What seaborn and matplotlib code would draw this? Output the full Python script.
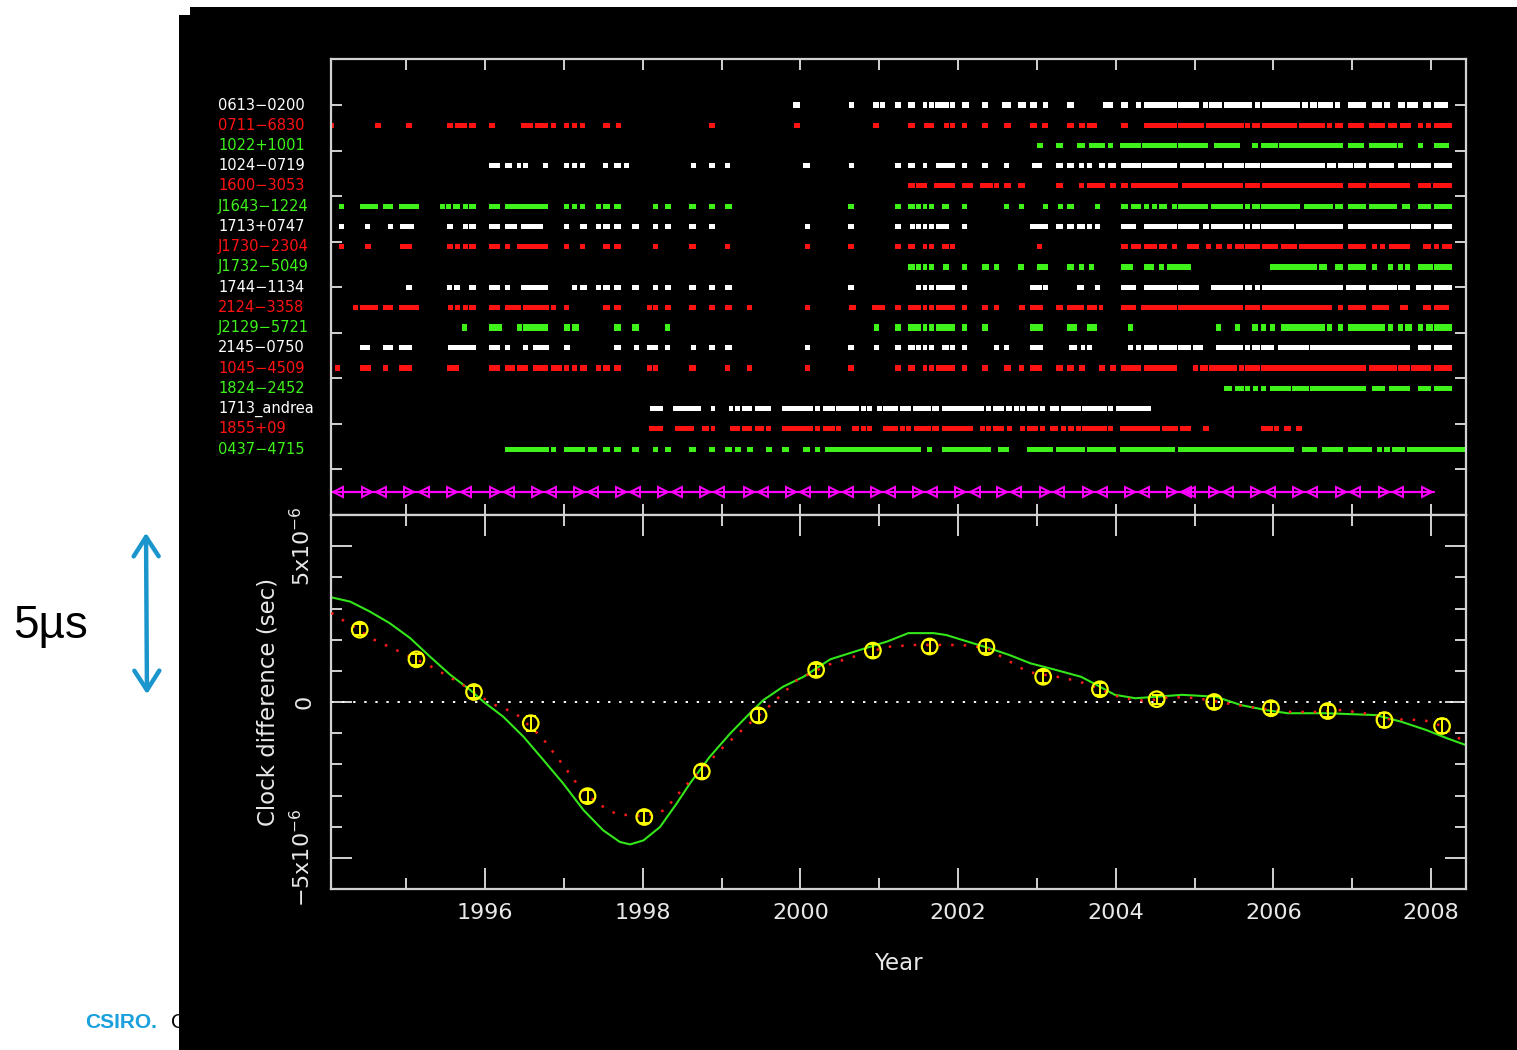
import numpy as np
import matplotlib
matplotlib.use("Agg")
import matplotlib.pyplot as plt
from matplotlib.patches import Rectangle, FancyArrowPatch
from matplotlib.transforms import blended_transform_factory
import seaborn as sns

# ---------------------------------------------------------------- data
PSR_NAMES = ["0613\u22120200", "0711\u22126830", "1022+1001", "1024\u22120719",
             "1600\u22123053", "J1643\u22121224", "1713+0747", "J1730\u22122304",
             "J1732\u22125049", "1744\u22121134", "2124\u22123358", "J2129\u22125721",
             "2145\u22120750", "1045\u22124509", "1824\u22122452", "1713_andrea",
             "1855+09", "0437\u22124715"]

# observing spans per pulsar (start year, end year)
SEG_0613_0200 = [(1999.91, 2000.00), (2000.62, 2000.68), (2000.92, 2001.00), (2001.01, 2001.07),
                 (2001.20, 2001.28), (2001.37, 2001.46), (2001.56, 2001.61), (2001.63, 2001.70),
                 (2001.71, 2001.89), (2001.90, 2001.96), (2002.05, 2002.14), (2002.30, 2002.38),
                 (2002.56, 2002.67), (2002.76, 2002.86), (2002.91, 2003.00), (2003.08, 2003.14),
                 (2003.38, 2003.47), (2003.84, 2003.97), (2004.07, 2004.16), (2004.26, 2004.32),
                 (2004.36, 2004.78), (2004.79, 2005.06), (2005.11, 2005.17), (2005.18, 2005.35),
                 (2005.37, 2005.73), (2005.77, 2005.83), (2005.86, 2006.34), (2006.36, 2006.44),
                 (2006.47, 2006.55), (2006.57, 2006.76), (2006.78, 2006.85), (2006.95, 2007.18),
                 (2007.25, 2007.38), (2007.40, 2007.48), (2007.58, 2007.67), (2007.70, 2007.84),
                 (2007.90, 2008.00), (2008.04, 2008.22)]
SEG_0711_6830 = [(1994.02, 1994.08), (1994.60, 1994.68), (1995.00, 1995.07), (1995.52, 1995.59),
                 (1995.62, 1995.77), (1995.80, 1995.89), (1996.05, 1996.13), (1996.46, 1996.61),
                 (1996.63, 1996.80), (1996.84, 1996.90), (1997.00, 1997.07), (1997.10, 1997.17),
                 (1997.21, 1997.27), (1997.50, 1997.59), (1997.66, 1997.73), (1998.84, 1998.92),
                 (1999.92, 2000.00), (2000.92, 2001.00), (2001.37, 2001.46), (2001.57, 2001.70),
                 (2001.82, 2001.89), (2001.90, 2001.96), (2002.05, 2002.11), (2002.30, 2002.38),
                 (2002.58, 2002.67), (2002.91, 2003.00), (2003.07, 2003.14), (2003.38, 2003.47),
                 (2003.54, 2003.61), (2003.64, 2003.76), (2004.07, 2004.16), (2004.36, 2004.78),
                 (2004.79, 2005.12), (2005.15, 2005.63), (2005.64, 2005.70), (2005.73, 2005.83),
                 (2005.86, 2006.30), (2006.33, 2006.66), (2006.68, 2006.75), (2006.78, 2006.88),
                 (2006.95, 2007.15), (2007.21, 2007.42), (2007.46, 2007.57), (2007.61, 2007.75),
                 (2007.84, 2007.90), (2007.94, 2008.00), (2008.04, 2008.27)]
SEG_1022_1001 = [(2003.00, 2003.08), (2003.24, 2003.33), (2003.51, 2003.61), (2003.66, 2003.87),
                 (2003.90, 2003.97), (2004.06, 2004.32), (2004.33, 2004.78), (2004.79, 2005.17),
                 (2005.25, 2005.58), (2005.73, 2005.81), (2005.84, 2006.06), (2006.07, 2006.88),
                 (2006.95, 2007.15), (2007.21, 2007.57), (2007.58, 2007.65), (2007.84, 2007.90),
                 (2008.04, 2008.23)]
SEG_1024_0719 = [(1996.05, 1996.19), (1996.25, 1996.34), (1996.41, 1996.46), (1996.48, 1996.55),
                 (1996.74, 1996.80), (1997.00, 1997.07), (1997.10, 1997.17), (1997.21, 1997.27),
                 (1997.50, 1997.56), (1997.64, 1997.73), (1997.76, 1997.83), (1998.61, 1998.68),
                 (1998.84, 1998.92), (1999.04, 1999.11), (2000.03, 2000.12), (2000.62, 2000.68),
                 (2001.20, 2001.28), (2001.37, 2001.46), (2001.56, 2001.61), (2001.72, 2001.96),
                 (2002.05, 2002.11), (2002.30, 2002.38), (2002.58, 2002.65), (2002.94, 2003.07),
                 (2003.24, 2003.33), (2003.38, 2003.47), (2003.54, 2003.60), (2003.64, 2003.70),
                 (2003.79, 2003.87), (2003.90, 2004.00), (2004.07, 2004.32), (2004.33, 2004.78),
                 (2004.82, 2005.12), (2005.15, 2005.35), (2005.37, 2005.63), (2005.64, 2005.83),
                 (2005.84, 2006.66), (2006.68, 2006.80), (2006.82, 2007.01), (2007.02, 2007.18),
                 (2007.21, 2007.53), (2007.58, 2007.73), (2007.75, 2008.00), (2008.04, 2008.27)]
SEG_1600_3053 = [(2001.37, 2001.46), (2001.47, 2001.61), (2001.70, 2001.96), (2002.05, 2002.19),
                 (2002.28, 2002.44), (2002.46, 2002.52), (2002.58, 2002.67), (2002.76, 2002.85),
                 (2003.24, 2003.33), (2003.54, 2003.60), (2003.64, 2003.87), (2003.93, 2004.00),
                 (2004.07, 2004.16), (2004.20, 2004.79), (2004.84, 2005.62), (2005.64, 2005.83),
                 (2005.86, 2006.88), (2006.95, 2007.18), (2007.21, 2007.73), (2007.84, 2008.00),
                 (2008.03, 2008.27)]
SEG_J1643_1224 = [(1994.15, 1994.21), (1994.41, 1994.64), (1994.71, 1994.83), (1994.91, 1995.16),
                  (1995.43, 1995.49), (1995.51, 1995.57), (1995.59, 1995.68), (1995.72, 1995.78),
                  (1995.80, 1995.89), (1996.05, 1996.19), (1996.25, 1996.80), (1997.00, 1997.07),
                  (1997.10, 1997.17), (1997.21, 1997.27), (1997.41, 1997.47), (1997.50, 1997.59),
                  (1997.64, 1997.73), (1998.13, 1998.19), (1998.28, 1998.36), (1998.59, 1998.68),
                  (1998.84, 1998.92), (1999.04, 1999.13), (2000.61, 2000.68), (2001.20, 2001.28),
                  (2001.37, 2001.46), (2001.47, 2001.53), (2001.56, 2001.61), (2001.63, 2001.70),
                  (2001.80, 2001.89), (2002.05, 2002.11), (2002.58, 2002.65), (2002.77, 2002.84),
                  (2003.08, 2003.14), (2003.27, 2003.33), (2003.38, 2003.47), (2003.74, 2003.80),
                  (2004.07, 2004.16), (2004.20, 2004.32), (2004.36, 2004.42), (2004.46, 2004.53),
                  (2004.55, 2004.65), (2004.72, 2004.78), (2004.79, 2005.17), (2005.21, 2005.62),
                  (2005.64, 2005.70), (2005.73, 2005.83), (2005.84, 2006.34), (2006.39, 2006.76),
                  (2006.78, 2006.88), (2006.95, 2007.18), (2007.21, 2007.57), (2007.63, 2007.73),
                  (2007.84, 2008.00), (2008.04, 2008.27)]
SEG_1713_0747 = [(1994.15, 1994.21), (1994.48, 1994.54), (1994.77, 1994.83), (1994.92, 1995.10),
                 (1995.52, 1995.59), (1995.72, 1995.78), (1995.80, 1995.89), (1996.05, 1996.19),
                 (1996.25, 1996.41), (1996.46, 1996.74), (1997.00, 1997.07), (1997.21, 1997.29),
                 (1997.41, 1997.47), (1997.50, 1997.59), (1997.64, 1997.73), (1997.86, 1997.95),
                 (1998.13, 1998.19), (1998.28, 1998.36), (1998.59, 1998.68), (1998.84, 1998.92),
                 (2000.06, 2000.12), (2000.61, 2000.68), (2001.20, 2001.28), (2001.39, 2001.46),
                 (2001.47, 2001.53), (2001.56, 2001.61), (2001.63, 2001.70), (2001.72, 2001.89),
                 (2002.05, 2002.11), (2002.91, 2003.14), (2003.24, 2003.33), (2003.38, 2003.47),
                 (2003.51, 2003.61), (2003.64, 2003.70), (2003.74, 2003.80), (2004.07, 2004.26),
                 (2004.36, 2004.78), (2004.79, 2005.06), (2005.11, 2005.18), (2005.21, 2005.62),
                 (2005.64, 2005.70), (2005.73, 2005.83), (2005.84, 2006.26), (2006.29, 2006.88),
                 (2006.95, 2007.73), (2007.75, 2008.00), (2008.04, 2008.27)]
SEG_J1730_2304 = [(1994.15, 1994.21), (1994.48, 1994.55), (1994.92, 1995.07), (1995.52, 1995.59),
                  (1995.62, 1995.68), (1995.72, 1995.78), (1995.80, 1995.89), (1996.05, 1996.19),
                  (1996.25, 1996.32), (1996.41, 1996.80), (1997.00, 1997.07), (1997.21, 1997.27),
                  (1997.50, 1997.59), (1997.64, 1997.73), (1998.13, 1998.19), (1998.59, 1998.68),
                  (1999.04, 1999.11), (2000.06, 2000.12), (2000.61, 2000.68), (2001.20, 2001.28),
                  (2001.37, 2001.46), (2001.56, 2001.61), (2001.63, 2001.70), (2001.80, 2001.89),
                  (2001.90, 2001.96), (2003.00, 2003.07), (2004.07, 2004.16), (2004.20, 2004.32),
                  (2004.36, 2004.53), (2004.55, 2004.65), (2004.72, 2004.78), (2004.91, 2005.06),
                  (2005.15, 2005.21), (2005.27, 2005.35), (2005.41, 2005.48), (2005.51, 2005.63),
                  (2005.64, 2005.83), (2005.86, 2006.06), (2006.10, 2006.30), (2006.33, 2006.88),
                  (2006.95, 2007.18), (2007.25, 2007.32), (2007.35, 2007.42), (2007.47, 2007.73),
                  (2007.90, 2008.00), (2008.04, 2008.10), (2008.14, 2008.27)]
SEG_J1732_5049 = [(2001.37, 2001.46), (2001.47, 2001.53), (2001.56, 2001.61), (2001.63, 2001.70),
                  (2001.81, 2001.88), (2002.05, 2002.11), (2002.30, 2002.39), (2002.46, 2002.52),
                  (2002.76, 2002.84), (2003.00, 2003.14), (2003.38, 2003.47), (2003.54, 2003.60),
                  (2003.66, 2003.73), (2004.07, 2004.22), (2004.36, 2004.49), (2004.55, 2004.61),
                  (2004.65, 2004.96), (2005.96, 2006.55), (2006.58, 2006.68), (2006.78, 2006.88),
                  (2006.95, 2007.18), (2007.25, 2007.32), (2007.46, 2007.52), (2007.58, 2007.65),
                  (2007.67, 2007.73), (2007.84, 2008.03), (2008.04, 2008.27)]
SEG_1744_1134 = [(1995.00, 1995.07), (1995.52, 1995.58), (1995.61, 1995.68), (1995.80, 1995.89),
                 (1996.05, 1996.19), (1996.25, 1996.32), (1996.46, 1996.80), (1997.10, 1997.17),
                 (1997.21, 1997.29), (1997.41, 1997.47), (1997.50, 1997.59), (1997.64, 1997.73),
                 (1997.86, 1997.95), (1998.13, 1998.19), (1998.28, 1998.36), (1998.59, 1998.68),
                 (1998.84, 1998.92), (1999.04, 1999.13), (2000.61, 2000.68), (2001.47, 2001.53),
                 (2001.56, 2001.61), (2001.63, 2001.70), (2001.72, 2001.96), (2002.05, 2002.11),
                 (2002.91, 2003.07), (2003.08, 2003.14), (2003.51, 2003.60), (2003.74, 2003.80),
                 (2004.07, 2004.26), (2004.36, 2004.78), (2004.79, 2005.06), (2005.21, 2005.62),
                 (2005.64, 2005.73), (2005.77, 2005.83), (2005.86, 2006.88), (2006.92, 2007.18),
                 (2007.21, 2007.57), (2007.58, 2007.73), (2007.81, 2008.00), (2008.04, 2008.27)]
SEG_2124_3358 = [(1994.33, 1994.39), (1994.41, 1994.64), (1994.71, 1994.83), (1994.91, 1995.16),
                 (1995.53, 1995.59), (1995.62, 1995.68), (1995.72, 1995.78), (1995.80, 1995.89),
                 (1996.05, 1996.19), (1996.25, 1996.46), (1996.48, 1996.81), (1996.84, 1996.90),
                 (1997.00, 1997.07), (1997.50, 1997.59), (1997.64, 1997.73), (1998.06, 1998.12),
                 (1998.13, 1998.19), (1998.28, 1998.36), (1998.59, 1998.68), (1998.84, 1998.92),
                 (1999.04, 1999.13), (1999.32, 1999.39), (2000.06, 2000.12), (2000.62, 2000.71),
                 (2000.91, 2001.07), (2001.20, 2001.28), (2001.37, 2001.53), (2001.56, 2001.61),
                 (2001.63, 2001.70), (2001.72, 2001.96), (2002.05, 2002.11), (2002.30, 2002.38),
                 (2002.46, 2002.52), (2002.77, 2002.85), (2002.91, 2003.08), (2003.24, 2003.33),
                 (2003.38, 2003.60), (2003.64, 2003.76), (2003.79, 2003.84), (2004.07, 2004.26),
                 (2004.32, 2004.78), (2004.79, 2005.62), (2005.64, 2005.83), (2005.86, 2006.75),
                 (2006.82, 2006.88), (2006.95, 2007.18), (2007.25, 2007.47), (2007.61, 2007.71),
                 (2007.90, 2008.00), (2008.04, 2008.23)]
SEG_J2129_5721 = [(1995.71, 1995.77), (1996.05, 1996.22), (1996.41, 1996.47), (1996.48, 1996.80),
                  (1997.00, 1997.08), (1997.10, 1997.19), (1997.64, 1997.73), (1997.86, 1997.95),
                  (1998.28, 1998.35), (2000.93, 2001.00), (2001.20, 2001.28), (2001.37, 2001.53),
                  (2001.56, 2001.61), (2001.63, 2001.70), (2001.72, 2001.96), (2002.05, 2002.11),
                  (2002.30, 2002.38), (2002.91, 2003.08), (2003.38, 2003.51), (2003.64, 2003.76),
                  (2004.16, 2004.22), (2005.27, 2005.34), (2005.51, 2005.58), (2005.73, 2005.81),
                  (2005.84, 2005.91), (2005.96, 2006.02), (2006.10, 2006.66), (2006.68, 2006.75),
                  (2006.82, 2006.88), (2006.95, 2007.42), (2007.46, 2007.52), (2007.58, 2007.65),
                  (2007.67, 2007.76), (2007.84, 2007.90), (2007.94, 2008.03), (2008.04, 2008.27)]
SEG_2145_0750 = [(1994.41, 1994.54), (1994.71, 1994.83), (1994.91, 1995.07), (1995.53, 1995.89),
                 (1996.05, 1996.19), (1996.25, 1996.32), (1996.48, 1996.55), (1996.61, 1996.81),
                 (1997.00, 1997.08), (1997.64, 1997.73), (1997.89, 1997.95), (1998.06, 1998.19),
                 (1998.28, 1998.35), (1998.61, 1998.68), (1998.84, 1998.92), (1999.04, 1999.13),
                 (2000.06, 2000.12), (2000.61, 2000.68), (2000.93, 2001.00), (2001.20, 2001.28),
                 (2001.37, 2001.46), (2001.47, 2001.53), (2001.56, 2001.61), (2001.63, 2001.70),
                 (2001.80, 2001.89), (2001.90, 2001.96), (2002.05, 2002.11), (2002.46, 2002.52),
                 (2002.58, 2002.65), (2002.91, 2003.08), (2003.41, 2003.51), (2003.56, 2003.61),
                 (2003.64, 2003.70), (2004.16, 2004.22), (2004.26, 2004.32), (2004.36, 2004.53),
                 (2004.55, 2004.78), (2004.79, 2004.96), (2004.98, 2005.11), (2005.27, 2005.62),
                 (2005.64, 2005.70), (2005.73, 2005.83), (2005.84, 2006.01), (2006.06, 2006.45),
                 (2006.47, 2007.73), (2007.84, 2008.00), (2008.04, 2008.27)]
SEG_1045_4509 = [(1994.10, 1994.16), (1994.41, 1994.55), (1994.71, 1994.77), (1994.91, 1995.07),
                 (1995.52, 1995.67), (1996.05, 1996.19), (1996.25, 1996.38), (1996.41, 1996.55),
                 (1996.61, 1996.80), (1996.84, 1996.98), (1997.00, 1997.07), (1997.10, 1997.17),
                 (1997.21, 1997.29), (1997.41, 1997.47), (1997.50, 1997.59), (1997.64, 1997.73),
                 (1998.06, 1998.12), (1998.13, 1998.19), (1998.59, 1998.68), (1999.04, 1999.11),
                 (1999.32, 1999.39), (2000.06, 2000.12), (2000.61, 2000.68), (2001.20, 2001.28),
                 (2001.37, 2001.46), (2001.56, 2001.61), (2001.63, 2001.70), (2001.72, 2001.96),
                 (2002.05, 2002.11), (2002.30, 2002.38), (2002.58, 2002.67), (2002.77, 2002.84),
                 (2002.91, 2003.07), (2003.24, 2003.33), (2003.38, 2003.47), (2003.54, 2003.61),
                 (2003.79, 2003.87), (2003.93, 2004.00), (2004.07, 2004.32), (2004.36, 2004.78),
                 (2004.98, 2005.05), (2005.07, 2005.17), (2005.18, 2005.54), (2005.57, 2005.63),
                 (2005.64, 2005.83), (2005.84, 2007.18), (2007.21, 2007.57), (2007.58, 2007.73),
                 (2007.75, 2008.00), (2008.04, 2008.27)]
SEG_1824_2452 = [(2005.37, 2005.48), (2005.51, 2005.63), (2005.64, 2005.70), (2005.74, 2005.81),
                 (2005.84, 2005.91), (2005.96, 2006.22), (2006.24, 2006.45), (2006.47, 2007.18),
                 (2007.25, 2007.42), (2007.47, 2007.73), (2007.84, 2008.00), (2008.04, 2008.27)]
SEG_1713_ANDREA = [(1998.09, 1998.26), (1998.38, 1998.74), (1998.87, 1998.92), (1999.10, 1999.15),
                   (1999.17, 1999.24), (1999.26, 1999.39), (1999.43, 1999.63), (1999.77, 2000.16),
                   (2000.19, 2000.25), (2000.29, 2000.44), (2000.45, 2000.74), (2000.77, 2000.83),
                   (2000.85, 2000.91), (2000.97, 2001.04), (2001.05, 2001.24), (2001.26, 2001.40),
                   (2001.43, 2001.66), (2001.67, 2001.76), (2001.80, 2002.33), (2002.36, 2002.42),
                   (2002.44, 2002.58), (2002.61, 2002.69), (2002.71, 2002.77), (2002.79, 2002.85),
                   (2002.88, 2003.02), (2003.04, 2003.10), (2003.17, 2003.28), (2003.31, 2003.56),
                   (2003.57, 2003.89), (2003.90, 2003.97), (2004.00, 2004.45)]
SEG_1855_09 = [(1998.08, 1998.26), (1998.41, 1998.65), (1998.75, 1998.84), (1998.87, 1998.92),
               (1999.11, 1999.24), (1999.26, 1999.39), (1999.43, 1999.54), (1999.56, 1999.63),
               (1999.77, 2000.16), (2000.19, 2000.25), (2000.29, 2000.44), (2000.45, 2000.52),
               (2000.66, 2000.74), (2000.77, 2000.83), (2000.85, 2000.91), (2001.05, 2001.24),
               (2001.26, 2001.33), (2001.34, 2001.40), (2001.44, 2001.66), (2001.67, 2001.76),
               (2001.80, 2002.19), (2002.28, 2002.34), (2002.36, 2002.42), (2002.44, 2002.58),
               (2002.62, 2002.69), (2002.79, 2002.85), (2002.88, 2003.02), (2003.04, 2003.10),
               (2003.17, 2003.27), (2003.31, 2003.37), (2003.40, 2003.47), (2003.50, 2003.56),
               (2003.57, 2003.89), (2003.90, 2003.97), (2004.06, 2004.56), (2004.59, 2004.79),
               (2004.82, 2004.96), (2005.11, 2005.18), (2005.84, 2006.00), (2006.01, 2006.07),
               (2006.14, 2006.22), (2006.29, 2006.36)]
SEG_0437_4715 = [(1996.25, 1996.81), (1996.84, 1996.90), (1997.00, 1997.27), (1997.31, 1997.42),
                 (1997.50, 1997.59), (1997.64, 1997.73), (1997.86, 1997.95), (1998.13, 1998.19),
                 (1998.28, 1998.36), (1998.59, 1998.68), (1998.84, 1998.92), (1999.04, 1999.13),
                 (1999.17, 1999.25), (1999.32, 1999.40), (1999.56, 1999.64), (1999.77, 1999.86),
                 (2000.03, 2000.12), (2000.19, 2000.25), (2000.31, 2001.53), (2001.61, 2001.67),
                 (2001.80, 2002.42), (2002.51, 2002.65), (2002.88, 2003.21), (2003.24, 2003.61),
                 (2003.64, 2004.00), (2004.06, 2004.75), (2004.79, 2006.26), (2006.36, 2006.55),
                 (2006.62, 2006.88), (2006.95, 2007.25), (2007.32, 2007.38), (2007.40, 2007.48),
                 (2007.51, 2007.67), (2007.70, 2008.46)]

SEGMENTS = [SEG_0613_0200, SEG_0711_6830, SEG_1022_1001, SEG_1024_0719, SEG_1600_3053,
            SEG_J1643_1224, SEG_1713_0747, SEG_J1730_2304, SEG_J1732_5049, SEG_1744_1134,
            SEG_2124_3358, SEG_J2129_5721, SEG_2145_0750, SEG_1045_4509, SEG_1824_2452,
            SEG_1713_ANDREA, SEG_1855_09, SEG_0437_4715]

# averaging-window edges along the bottom track of the upper panel
WINDOW_STARTS = [1994.50, 1995.04, 1995.58, 1996.13, 1996.66, 1997.19, 1997.73, 1998.26, 1998.79,
                 1999.35, 1999.88, 2000.43, 2000.96, 2001.49, 2002.03, 2002.56, 2003.10, 2003.65,
                 2004.18, 2004.72, 2005.25, 2005.78, 2006.31, 2006.86, 2007.40, 2007.95]
WINDOW_ENDS = [1994.13, 1994.68, 1995.22, 1995.76, 1996.31, 1996.84, 1997.37, 1997.90, 1998.44,
               1998.97, 1999.53, 2000.06, 2000.61, 2001.14, 2001.67, 2002.21, 2002.74, 2003.28,
               2003.83, 2004.36, 2004.89, 2004.94, 2005.43, 2005.96, 2006.49, 2007.04, 2007.58]
WINDOW_TRACK = [1994.05, 2008.04]

# clock offset estimates (microseconds)
PT_YEARS = [1994.41, 1995.13, 1995.86, 1996.58, 1997.30, 1998.02, 1998.75, 1999.47, 2000.20, 2000.92,
            2001.64, 2002.36, 2003.08, 2003.80, 2004.52, 2005.25, 2005.97, 2006.69, 2007.41, 2008.14]
PT_US = [2.32, 1.37, 0.32, -0.68, -3.02, -3.69, -2.23, -0.43, 1.03, 1.65,
         1.78, 1.76, 0.81, 0.41, 0.09, 0.00, -0.20, -0.29, -0.58, -0.77]
PT_ERR_US = [0.17, 0.17, 0.20, 0.24, 0.20, 0.18, 0.20, 0.20, 0.18, 0.20,
             0.20, 0.20, 0.20, 0.20, 0.15, 0.20, 0.20, 0.20, 0.22, 0.22]

# smooth curve through the estimates
SMOOTH_YEARS = [1994.05, 1994.60, 1995.30, 1995.70, 1996.09, 1996.38, 1996.72, 1997.01, 1997.18,
                1997.42, 1997.67, 1998.02, 1998.28, 1998.51, 1998.74, 1999.02, 1999.26, 1999.62,
                1999.96, 2000.35, 2000.67, 2001.10, 2001.43, 2002.04, 2002.36, 2002.62, 2002.89,
                2003.35, 2003.64, 2004.07, 2004.39, 2004.68, 2005.01, 2005.45, 2005.78, 2006.22,
                2006.55, 2006.85, 2007.14, 2007.42, 2007.91, 2008.14, 2008.44]
SMOOTH_US = [2.86, 1.99, 1.16, 0.58, -0.06, -0.35, -1.13, -2.09, -2.67, -3.25, -3.60, -3.67, -3.47,
             -2.77, -2.19, -1.45, -0.90, -0.10, 0.71, 1.19, 1.45, 1.77, 1.83, 1.83, 1.74, 1.35, 0.96,
             0.77, 0.58, 0.13, 0.03, 0.16, 0.13, -0.06, -0.19, -0.32, -0.32, -0.26, -0.35, -0.55,
             -0.58, -0.77, -1.32]

# reference clock model (microseconds)
MODEL_YEARS = [1994.03, 1994.29, 1994.54, 1994.79, 1995.05, 1995.30, 1995.56, 1995.81, 1995.98,
               1996.23, 1996.49, 1996.74, 1996.99, 1997.25, 1997.50, 1997.71, 1997.84, 1998.01,
               1998.22, 1998.43, 1998.60, 1998.85, 1999.11, 1999.36, 1999.53, 1999.78, 2000.04,
               2000.38, 2000.78, 2001.10, 2001.37, 2001.69, 2001.85, 2002.12, 2002.39, 2002.65,
               2002.92, 2003.24, 2003.56, 2003.72, 2003.99, 2004.25, 2004.52, 2004.84, 2005.06,
               2005.27, 2005.59, 2005.91, 2006.18, 2006.66, 2007.30, 2007.62, 2007.94, 2008.21,
               2008.44]
MODEL_US = [3.37, 3.22, 2.90, 2.53, 2.05, 1.46, 0.87, 0.39, 0.01, -0.47, -1.12, -1.86, -2.61,
            -3.47, -4.12, -4.49, -4.57, -4.44, -4.01, -3.26, -2.61, -1.76, -1.01, -0.36, 0.06,
            0.49, 0.81, 1.37, 1.69, 1.94, 2.21, 2.21, 2.15, 1.94, 1.73, 1.51, 1.24, 1.03, 0.81,
            0.60, 0.23, 0.12, 0.17, 0.23, 0.20, 0.17, -0.10, -0.26, -0.36, -0.36, -0.42, -0.63,
            -0.90, -1.17, -1.38]

# ---------------------------------------------------------------- style
W, H = 1517, 1050
AXIS_GREY = "#d2d2d2"
TEXT_GREY = "#e8e8e8"
ROW_COLOURS = ["#ffffff", "#ff1212", "#3ef21a"]
MAGENTA = "#ff00ff"
YELLOW = "#ffff00"
THICK_ROWS = (8, 11, 13)
XMIN, XMAX = 1994.046, 2008.444
ROW_PX0, ROW_STEP = 105.0, 20.24
WINDOW_ROW = (492 - ROW_PX0) / ROW_STEP

sns.set_theme(style="dark")
plt.rcParams["font.family"] = ["DejaVu Sans"]


def fx(px):
    return px / W


def fy(py):
    return 1 - py / H


fig = plt.figure(figsize=(W / 100, H / 100), dpi=100, facecolor="white")

# black plotting backdrop
for x0, y0 in ((179, 15), (190, 7)):
    fig.patches.append(Rectangle((fx(x0), 0), 1 - fx(x0), fy(y0), transform=fig.transFigure,
                                 facecolor="black", edgecolor="none", zorder=1))

ax_top = fig.add_axes([fx(331), fy(515), fx(1466) - fx(331), fy(59) - fy(515)])
ax_bot = fig.add_axes([fx(331), fy(889), fx(1466) - fx(331), fy(515) - fy(889)])
for ax in (ax_top, ax_bot):
    ax.set_zorder(3)
    ax.set_facecolor("black")
    ax.grid(False)
    for sp in ax.spines.values():
        sp.set_color(AXIS_GREY)
        sp.set_linewidth(1.6)
        sp.set_visible(True)
    ax.set_xlim(XMIN, XMAX)

# ---------------------------------------------------------------- upper panel
for i, segs in enumerate(SEGMENTS):
    h = 0.33 if i in THICK_ROWS else 0.25
    ax_top.broken_barh([(a, b - a) for a, b in segs], (i - h / 2, h),
                       facecolors=ROW_COLOURS[i % 3], edgecolors="none")

ax_top.plot(WINDOW_TRACK, [WINDOW_ROW] * 2, color=MAGENTA, lw=1.6)
ax_top.plot(WINDOW_STARTS, [WINDOW_ROW] * len(WINDOW_STARTS), ls="none", marker=">",
            ms=7.5, mfc="none", mec=MAGENTA, mew=1.4)
ax_top.plot(WINDOW_ENDS, [WINDOW_ROW] * len(WINDOW_ENDS), ls="none", marker="<",
            ms=7.5, mfc="none", mec=MAGENTA, mew=1.4)

ax_top.set_ylim((515 - ROW_PX0) / ROW_STEP, (59 - ROW_PX0) / ROW_STEP)
ax_top.set_yticks(np.arange(0, 18.01, 2.25))
ax_top.set_xticks(np.arange(1995, 2009, 1))
ax_top.tick_params(axis="both", which="major", direction="in", length=8, width=1.4,
                   color=AXIS_GREY, top=True, bottom=True, left=True, right=True,
                   labelbottom=False, labelleft=False)

lab_tr = blended_transform_factory(ax_top.transAxes, ax_top.transData)
for i, name in enumerate(PSR_NAMES):
    ax_top.text((218 - 331) / (1466 - 331), i, name, transform=lab_tr, ha="left", va="center",
                fontsize=10.5, color=ROW_COLOURS[i % 3], clip_on=False)

# ---------------------------------------------------------------- lower panel
to_s = 1e-6
ax_bot.axhline(0, color="white", lw=1.4, ls=(0, (1.2, 4.5)), zorder=1)
sns.lineplot(x=MODEL_YEARS, y=np.array(MODEL_US) * to_s, ax=ax_bot, color="#33e619",
             lw=1.5, sort=False, estimator=None, zorder=2)
ax_bot.plot(SMOOTH_YEARS, np.array(SMOOTH_US) * to_s, color="#ff1a1a", lw=1.8,
            ls=(0, (1, 4)), zorder=3)
ax_bot.errorbar(PT_YEARS, np.array(PT_US) * to_s, yerr=np.array(PT_ERR_US) * to_s, fmt="none",
                ecolor=YELLOW, elinewidth=1.4, capsize=3.5, capthick=1.4, zorder=4)
sns.scatterplot(x=PT_YEARS, y=np.array(PT_US) * to_s, ax=ax_bot, marker="o", s=125,
                color=YELLOW, facecolor="none", edgecolor=YELLOW, linewidth=1.6, zorder=5)

ax_bot.set_ylim(-6.0e-6, 6.0e-6)
ax_bot.set_xticks(np.arange(1996, 2009, 2))
ax_bot.set_xticks(np.arange(1995, 2009, 2), minor=True)
ax_bot.set_yticks([-5e-6, 0, 5e-6])
ax_bot.set_yticks(np.arange(-6e-6, 6.01e-6, 1e-6), minor=True)
ax_bot.tick_params(axis="both", which="major", direction="in", length=15, width=1.4,
                   color=AXIS_GREY, top=True, bottom=True, left=True, right=True,
                   labelsize=16, labelcolor=TEXT_GREY)
ax_bot.tick_params(axis="both", which="minor", direction="in", length=8, width=1.4,
                   color=AXIS_GREY, top=True, bottom=True, left=True, right=True)
ax_bot.tick_params(axis="x", which="major", pad=10)
ax_bot.tick_params(axis="y", which="major", pad=12)
ax_bot.set_xticklabels([str(y) for y in range(1996, 2009, 2)])
ax_bot.set_yticklabels(["\u22125x10$^{\u22126}$", "0", "5x10$^{\u22126}$"], rotation=90,
                       va="center")

fig.text(fx(898), fy(963), "Year", ha="center", va="center", fontsize=16.5, color=TEXT_GREY,
         zorder=4)
fig.text(fx(268), fy(702), "Clock difference (sec)", ha="center", va="center", rotation=90,
         fontsize=16.5, color=TEXT_GREY, zorder=4)

# ---------------------------------------------------------------- slide annotations
fig.text(fx(13), fy(626), "5\u00b5s", ha="left", va="center", fontsize=33,
         family="Liberation Sans", color="black", zorder=4)
fig.patches.append(FancyArrowPatch((fx(146), fy(530)), (fx(147), fy(697)),
                                   transform=fig.transFigure,
                                   arrowstyle="<->,head_length=0.7,head_width=0.45",
                                   mutation_scale=20, color="#1a96cc", lw=3.2, zorder=4))
fig.text(fx(85), fy(1022), "CSIRO.", ha="left", va="center", fontsize=15, fontweight="bold",
         family="Liberation Sans", color="#1aa0dc", zorder=4)
fig.text(fx(171), fy(1022), "Clock", ha="left", va="center", fontsize=15,
         family="Liberation Sans", color="black", zorder=0.5)

fig.savefig("out.png", dpi=100, facecolor="white")
